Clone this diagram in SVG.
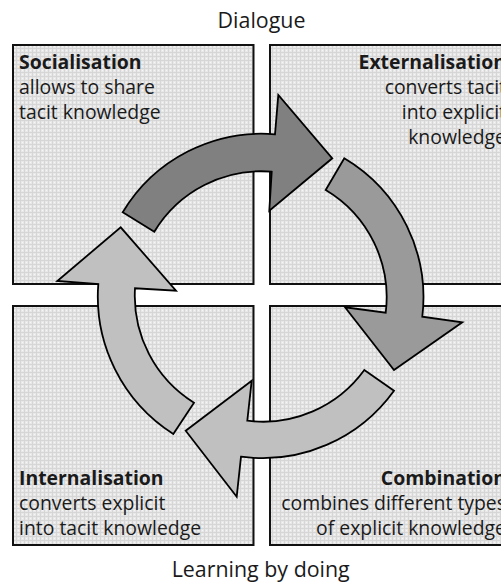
<svg xmlns="http://www.w3.org/2000/svg" width="501" height="585" viewBox="0 0 501 585">
<defs>
<pattern id="grid" width="4" height="4" patternUnits="userSpaceOnUse">
<rect width="4" height="4" fill="#e8e8e8"/>
<rect x="0" y="0" width="4" height="1" fill="#d6d6d6"/>
<rect x="0" y="0" width="1" height="4" fill="#d6d6d6"/>
<rect x="2" y="2" width="1" height="1" fill="#f6f6f6"/>
</pattern>
</defs>
<style>
.box{fill:url(#grid);stroke:#111;stroke-width:2}
.t{font-family:"Open Sans","Liberation Sans",sans-serif;font-size:19.4px;fill:#1a1a1a}
.b{font-weight:bold}
.e{text-anchor:end}
.lab{font-family:"Open Sans","Liberation Sans",sans-serif;font-size:21.4px;fill:#1a1a1a;text-anchor:middle}
.arr{stroke:#000;stroke-width:1.8;stroke-linejoin:miter}
</style>
<rect width="501" height="585" fill="#fff"/>
<text class="lab" x="261.5" y="28.3">Dialogue</text>
<text class="lab" x="260.7" y="577.3">Learning by doing</text>
<g id="socialisation">
<rect class="box" x="13" y="45" width="240.5" height="239"/>
<text class="t b" x="19" y="69.3">Socialisation</text>
<text class="t" x="19" y="94">allows to share</text>
<text class="t" x="19" y="119.3">tacit knowledge</text>
</g>
<g id="externalisation">
<rect class="box" x="270" y="45" width="240" height="239"/>
<text class="t b e" x="506" y="69.3">Externalisation</text>
<text class="t e" x="506" y="94">converts tacit</text>
<text class="t e" x="506" y="119.3">into explicit</text>
<text class="t e" x="506" y="144">knowledge</text>
</g>
<g id="internalisation">
<rect class="box" x="13" y="306" width="240.5" height="239"/>
<text class="t b" x="19" y="485">Internalisation</text>
<text class="t" x="19" y="510">converts explicit</text>
<text class="t" x="19" y="535">into tacit knowledge</text>
</g>
<g id="combination">
<rect class="box" x="270" y="306" width="240" height="239"/>
<text class="t b e" x="506" y="484.5">Combination</text>
<text class="t e" x="506" y="509.5">combines different types</text>
<text class="t e" x="506" y="535">of explicit knowledge</text>
</g>
<g id="connectors">
<path class="arr" fill="#808080" d="M 122.7 212.3 A 162 162 0 0 1 275 134.3 L 278.3 95 L 332.3 158.3 L 269.3 210.7 L 271.7 171.7 A 125 125 0 0 0 154.3 231.7 Z"/>
<path class="arr" fill="#9a9a9a" d="M 344.3 158.3 A 162 162 0 0 1 422.3 316.7 L 462.3 322.3 L 394 370 L 345 307.3 L 385.7 312.7 A 125 125 0 0 0 325.7 190 Z"/>
<path class="arr" fill="#c0c0c0" d="M 394 390.7 A 162 162 0 0 1 241 456.7 L 236.7 496.7 L 185.7 430.7 L 251.7 380.7 L 247.3 420.7 A 125 125 0 0 0 364.3 370 Z"/>
<path class="arr" fill="#c0c0c0" d="M 173.3 434 A 163 163 0 0 1 98.3 284 L 57.3 281 L 120.7 227.3 L 176 290.7 L 135 288.3 A 126 126 0 0 0 194 402.7 Z"/>
</g>
</svg>
